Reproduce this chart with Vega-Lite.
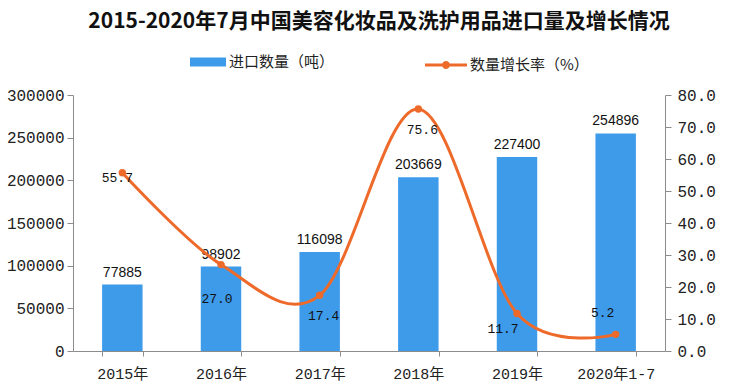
{
  "$schema": "https://vega.github.io/schema/vega-lite/v6.json",
  "width": 592,
  "height": 256,
  "autosize": {"type": "none"},
  "padding": {"left": 73, "top": 95, "right": 65, "bottom": 38},
  "background": "white",
  "title": {
    "text": "2015-2020年7月中国美容化妆品及洗护用品进口量及增长情况",
    "font": "Noto Sans CJK SC",
    "fontSize": 21,
    "fontWeight": "bold",
    "color": "#111111",
    "anchor": "middle",
    "frame": "group",
    "dx": 10,
    "offset": 12
  },
  "config": {
    "view": {"stroke": null},
    "axis": {
      "labelFont": "Liberation Mono",
      "labelFontSize": 16,
      "labelColor": "#222222",
      "domainColor": "#8c8c8c",
      "tickColor": "#8c8c8c",
      "grid": false,
      "title": null
    },
    "legend": {
      "labelFont": "Noto Sans CJK SC",
      "labelFontSize": 15,
      "labelColor": "#222222",
      "padding": 0,
      "title": null
    }
  },
  "data": {
    "values": [
      {"year": "2015年", "qty": 77885, "rate": 55.7},
      {"year": "2016年", "qty": 98902, "rate": 27.0},
      {"year": "2017年", "qty": 116098, "rate": 17.4},
      {"year": "2018年", "qty": 203669, "rate": 75.6},
      {"year": "2019年", "qty": 227400, "rate": 11.7},
      {"year": "2020年1-7", "qty": 254896, "rate": 5.2}
    ]
  },
  "encoding": {
    "x": {
      "field": "year",
      "type": "nominal",
      "sort": null,
      "scale": {"paddingInner": 0.59, "paddingOuter": 0.295},
      "axis": {
        "labelAngle": 0,
        "labelFont": "Liberation Mono, Noto Sans CJK SC",
        "labelFontSize": 15,
        "tickBand": "extent",
        "tickSize": 5,
        "labelPadding": 10
      }
    }
  },
  "layer": [
    {
      "encoding": {
        "y": {
          "field": "qty",
          "type": "quantitative",
          "scale": {"domain": [0, 300000]},
          "axis": {"orient": "left", "values": [0, 50000, 100000, 150000, 200000, 250000, 300000], "format": "d", "tickSize": 6, "labelPadding": 3}
        }
      },
      "layer": [
        {
          "mark": {"type": "bar"},
          "encoding": {
            "color": {
              "datum": "进口数量（吨）",
              "type": "nominal",
              "scale": {"range": ["#3E9BEA"]},
              "legend": {
                "orient": "none",
                "legendX": 117,
                "legendY": -51,
                "symbolType": "M-1,-0.25H1V0.25H-1Z",
                "symbolSize": 1296,
                "symbolStrokeWidth": 0,
                "labelOffset": 3,
                "encode": {"symbols": {"update": {"fill": {"value": "#3E9BEA"}, "opacity": {"value": 1}}}}
              }
            }
          }
        },
        {
          "mark": {"type": "text", "baseline": "bottom", "dy": -5, "font": "Liberation Sans", "fontSize": 14, "color": "#111111"},
          "encoding": {"text": {"field": "qty", "type": "quantitative", "format": "d"}}
        }
      ]
    },
    {
      "encoding": {
        "y": {
          "field": "rate",
          "type": "quantitative",
          "scale": {"domain": [0, 80]},
          "axis": {"orient": "right", "values": [0, 10, 20, 30, 40, 50, 60, 70, 80], "format": ".1f", "tickSize": 6, "labelPadding": 6}
        }
      },
      "layer": [
        {
          "mark": {"type": "line", "interpolate": "cardinal", "tension": 0, "strokeWidth": 3},
          "encoding": {
            "stroke": {
              "datum": "数量增长率（%）",
              "type": "nominal",
              "scale": {"range": ["#EE6A2A"]},
              "legend": {
                "orient": "none",
                "legendX": 352,
                "legendY": -51,
                "symbolType": "M-1,-0.07H1V0.07H-1Z M0.19,0A0.19,0.19,0,1,1,-0.19,0A0.19,0.19,0,1,1,0.19,0Z",
                "symbolSize": 1764,
                "symbolStrokeWidth": 0,
                "labelOffset": 3,
                "encode": {"symbols": {"update": {"fill": {"value": "#EE6A2A"}, "strokeWidth": {"value": 0}, "opacity": {"value": 1}}}}
              }
            }
          }
        },
        {
          "mark": {"type": "point", "filled": true, "size": 55, "color": "#EE6A2A", "opacity": 1}
        },
        {
          "transform": [{"filter": "datum.year == '2015年'"}],
          "mark": {"type": "text", "dx": -5, "dy": 5, "font": "Liberation Mono", "fontSize": 13, "color": "#111111"},
          "encoding": {"text": {"field": "rate", "type": "quantitative", "format": ".1f"}}
        },
        {
          "transform": [{"filter": "datum.year == '2016年'"}],
          "mark": {"type": "text", "dx": -4, "dy": 34, "font": "Liberation Mono", "fontSize": 13, "color": "#111111"},
          "encoding": {"text": {"field": "rate", "type": "quantitative", "format": ".1f"}}
        },
        {
          "transform": [{"filter": "datum.year == '2017年' || datum.year == '2018年'"}],
          "mark": {"type": "text", "dx": 4, "dy": 21, "font": "Liberation Mono", "fontSize": 13, "color": "#111111"},
          "encoding": {"text": {"field": "rate", "type": "quantitative", "format": ".1f"}}
        },
        {
          "transform": [{"filter": "datum.year == '2019年'"}],
          "mark": {"type": "text", "dx": -14, "dy": 15, "font": "Liberation Mono", "fontSize": 13, "color": "#111111"},
          "encoding": {"text": {"field": "rate", "type": "quantitative", "format": ".1f"}}
        },
        {
          "transform": [{"filter": "datum.year == '2020年1-7'"}],
          "mark": {"type": "text", "dx": -13, "dy": -21, "font": "Liberation Mono", "fontSize": 13, "color": "#111111"},
          "encoding": {"text": {"field": "rate", "type": "quantitative", "format": ".1f"}}
        }
      ]
    }
  ],
  "resolve": {"scale": {"y": "independent"}}
}
